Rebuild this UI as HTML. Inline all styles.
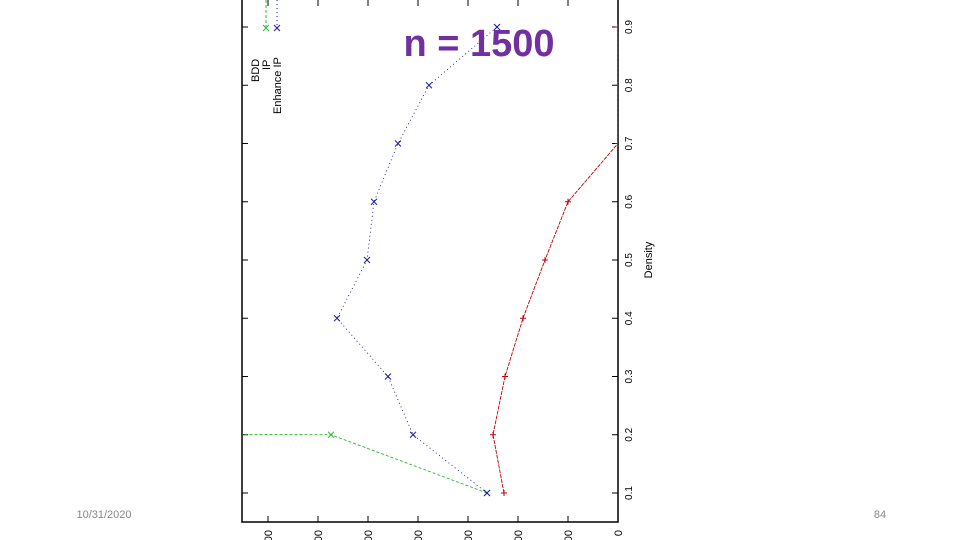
<!DOCTYPE html>
<html><head><meta charset="utf-8"><style>
html,body{margin:0;padding:0;background:#fff;width:960px;height:540px;overflow:hidden}
svg{display:block}
</style></head><body>
<svg id="c" width="960" height="540" viewBox="0 0 960 540" font-family="Liberation Sans, sans-serif">
<defs><clipPath id="pc"><rect x="242" y="-10" width="376" height="532"/></clipPath></defs>
<rect x="242" y="-10" width="376" height="532" fill="none" stroke="#000" stroke-width="1.5"/>
<g id="ticks"></g>
<g id="series" clip-path="url(#pc)"></g>
<text x="652" y="260" transform="rotate(-90 652 260)" text-anchor="middle" font-size="11">Density</text>
<g>
<text x="259" y="82" transform="rotate(-90 259 82)" text-anchor="start" font-size="11">BDD</text>
<text x="270" y="70" transform="rotate(-90 270 70)" text-anchor="start" font-size="11">IP</text>
<line x1="266" y1="0" x2="266" y2="27" stroke="#2db82d" stroke-dasharray="3,2"/>
<path d="M263,25L269,31M263,31L269,25" stroke="#2db82d"/>
<text x="281" y="114" transform="rotate(-90 281 114)" text-anchor="start" font-size="11">Enhance IP</text>
<line x1="277" y1="0" x2="277" y2="27" stroke="#1a1aa0" stroke-dasharray="1,3"/>
<path d="M274,25L280,31M274,31L280,25" stroke="#1a1aa0"/>
</g>
<text x="479" y="56" text-anchor="middle" font-size="38" font-weight="bold" fill="#7030a0">n = 1500</text>
<text x="104" y="518" text-anchor="middle" font-size="11" fill="#888">10/31/2020</text>
<text x="880" y="518" text-anchor="middle" font-size="11" fill="#888">84</text>
</svg>
<script>
const densities=[0.1,0.2,0.3,0.4,0.5,0.6,0.7,0.8,0.9];
const bddValues=[2.28,2.5,2.26,1.9,1.46,1.0,0,0,0];
const ipDensities=[0.1,0.2,0.3];
const ipValues=[2.62,5.74,300];
const enhanceValues=[2.62,4.1,4.6,5.62,5.02,4.88,4.4,3.78,2.42];
const valueTicks=[0,1,2,3,4,5,6,7];
const valueTickLabels=["0","100","200","300","400","500","600","700"];
const densityTicks=[0.1,0.2,0.3,0.4,0.5,0.6,0.7,0.8,0.9];

const NS="http://www.w3.org/2000/svg";
function yD(d){return 493-(d-0.1)*582.5;}
function xV(v){return 618-v*50;}
function mk(tag,attrs,parent){const e=document.createElementNS(NS,tag);for(const k in attrs)e.setAttribute(k,attrs[k]);parent.appendChild(e);return e;}
const tg=document.getElementById('ticks');
densityTicks.forEach(d=>{
  const y=yD(d);
  let l=mk('line',{x1:242,x2:248,y1:y,y2:y,stroke:'#000'},tg);
  
  
  mk('line',{x1:612,x2:618,y1:y,y2:y,stroke:'#000'},tg);
  let t=mk('text',{x:632,y:y,transform:`rotate(-90 632 ${y})`,'text-anchor':'middle','font-size':10},tg);
  t.textContent=d.toFixed(1);
  
  
});
valueTicks.forEach((v,i)=>{
  const x=xV(v);
  let l=mk('line',{x1:x,x2:x,y1:522,y2:516,stroke:'#000'},tg);
  
  
  mk('line',{x1:x,x2:x,y1:0,y2:6,stroke:'#000'},tg);
  let t=mk('text',{x:x+4,y:530,transform:`rotate(-90 ${x+4} 530)`,'text-anchor':'end','font-size':11},tg);
  t.textContent=valueTickLabels[i];
  
  
});
const sg=document.getElementById('series');
function series(ds,vs,color,dash,name,plus){
  const pts=ds.map((d,i)=>xV(vs[i])+','+yD(d)).join(' ');
  const p=mk('polyline',{points:pts,fill:'none',stroke:color,'stroke-width':0.9,'stroke-dasharray':dash},sg);
  
  
  ds.forEach((d,i)=>{
    const x=xV(vs[i]),y=yD(d);
    const dd=plus?`M${x-3},${y}L${x+3},${y}M${x},${y-3}L${x},${y+3}`:`M${x-3},${y-3}L${x+3},${y+3}M${x-3},${y+3}L${x+3},${y-3}`;
    const m=mk('path',{d:dd,stroke:color,'stroke-width':1},sg);
    
    
  });
}
series(densities,bddValues,'#c00000','4,1','bdd',true);
series(ipDensities,ipValues,'#2db82d','3,2','ip',false);
series(densities,enhanceValues,'#1a1aa0','1,3','enhance-ip',false);
</script>
</body></html>
